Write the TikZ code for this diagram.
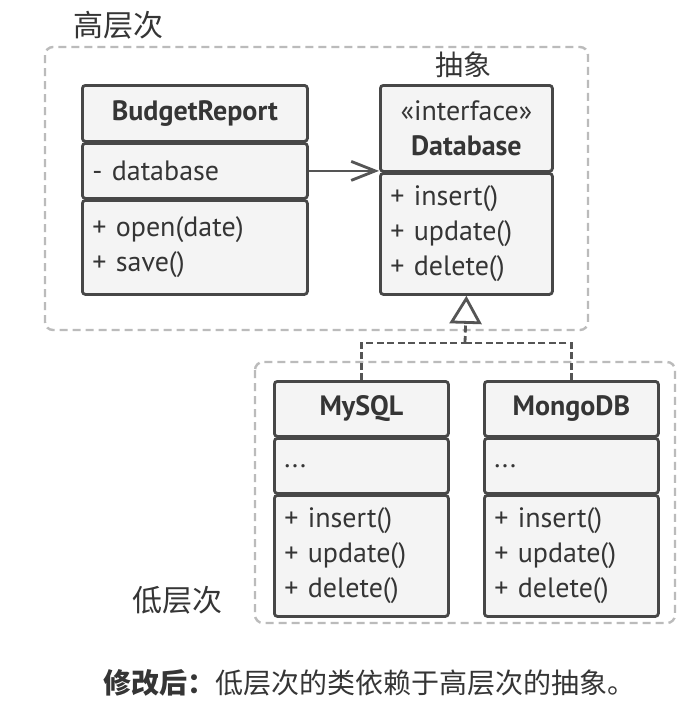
\documentclass[tikz,border=0pt]{standalone}
\usepackage{fontspec}
\setmainfont{PT Sans}
\newfontfamily\cjk{Noto Sans CJK SC}
\usetikzlibrary{arrows.meta}
\definecolor{linec}{HTML}{474747}
\definecolor{fillc}{HTML}{F4F4F4}
\definecolor{txtc}{HTML}{353535}
\definecolor{grpc}{HTML}{BBBBBB}
\definecolor{arrc}{HTML}{555555}
\begin{document}
\begin{tikzpicture}[x=1pt,y=-1pt,
  sec/.style={draw=linec, fill=fillc, line width=2.8pt, rounded corners=3pt,
    anchor=north west, inner xsep=10pt, inner ysep=0pt, align=left,
    text=txtc, font=\fontsize{28}{35}\selectfont},
  hdr/.style={sec, align=center, font=\fontsize{28}{35}\selectfont\bfseries},
  grp/.style={draw=grpc, line width=2.4pt, dash pattern=on 8pt off 5pt, rounded corners=8pt},
  cjklab/.style={text=txtc, font=\cjk\fontsize{30}{34}\selectfont, inner sep=0pt},
  assoc/.style={draw=arrc, line width=2.8pt, -{Straight Barb[length=24pt, width=19pt, line width=2.8pt]}},
  impl/.style={draw=arrc, line width=2.8pt, dash pattern=on 7pt off 3.5pt},
  realize/.style={impl, -{Triangle[length=28pt, width=32pt, fill=white, line width=2.8pt]}}
]
\useasboundingbox (0,0) rectangle (698,721);
\fill[white] (0,0) rectangle (698,721);

% group boxes
\draw[grp] (45,47) rectangle (588,330);
\draw[grp] (255,362) rectangle (675,623);

\node[cjklab] (hi) at (118,25) {高层次};
\node[cjklab, font=\cjk\fontsize{28}{32}\selectfont] (abs) at (463,65) {抽象};
\node[cjklab] (lo) at (177,600) {低层次};

% BudgetReport
\node[hdr, minimum width=225pt, minimum height=56pt, text width=205pt] (brh) at (81,84) {BudgetReport};
\node[sec, minimum width=225pt, minimum height=55pt, text width=205pt] (bra) at (81,142) {- database};
\node[sec, minimum width=225pt, minimum height=94pt, text width=205pt] (brm) at (81,199) {+ open(date)\\+ save()};

% Database
\node[hdr, minimum width=172pt, minimum height=86pt, text width=152pt] (dbh) at (379,84) {{\mdseries «interface»}\\Database};
\node[sec, minimum width=172pt, minimum height=121pt, text width=152pt] (dbm) at (379,172) {+ insert()\\+ update()\\+ delete()};

% MySQL
\node[hdr, minimum width=174pt, minimum height=55pt, text width=154pt] (myh) at (273,380) {MySQL};
\node[sec, minimum width=174pt, minimum height=55pt, text width=154pt] (mya) at (273,437) {...};
\node[sec, minimum width=174pt, minimum height=121pt, text width=154pt] (mym) at (273,494) {+ insert()\\+ update()\\+ delete()};

% MongoDB
\node[hdr, minimum width=174pt, minimum height=55pt, text width=154pt] (moh) at (483,380) {MongoDB};
\node[sec, minimum width=174pt, minimum height=55pt, text width=154pt] (moa) at (483,437) {...};
\node[sec, minimum width=174pt, minimum height=121pt, text width=154pt] (mom) at (483,494) {+ insert()\\+ update()\\+ delete()};

% connectors
\draw[assoc] (bra.east) -- (bra.east -| dbh.west);
\coordinate (join) at (465,343);
\draw[impl] (myh.north) |- (join);
\draw[impl] (moh.north) |- (join);
\draw[realize] (join) -- (dbm.south);

% caption
\node[anchor=west, text=txtc, inner sep=0pt, font=\cjk\fontsize{28}{32}\selectfont] (cap) at (103,683) {{\bfseries 修改后：}低层次的类依赖于高层次的抽象。};
\end{tikzpicture}
\end{document}
